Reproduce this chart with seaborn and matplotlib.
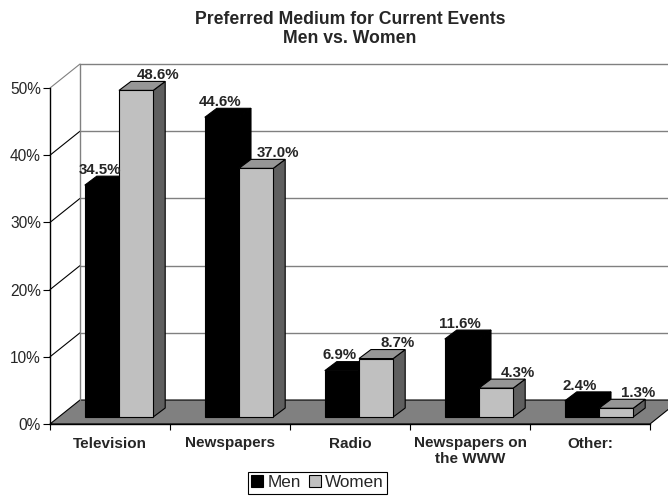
import pandas as pd
import matplotlib.pyplot as plt
import seaborn as sns
from matplotlib.patches import Polygon, Patch

# ------------------------- DATA ------------------------- #
categories = ["Television", "Newspapers", "Radio", "Newspapers on\nthe WWW", "Other:"]
men = [34.5, 44.6, 6.9, 11.6, 2.4]
women = [48.6, 37.0, 8.7, 4.3, 1.3]
series = ["Men", "Women"]
y_ticks = [0, 10, 20, 30, 40, 50]

# ------------------------- STYLE ------------------------- #
sns.set_style("white")
plt.rcParams["font.family"] = ["Liberation Sans", "DejaVu Sans"]

FRONT = {"Men": "#000000", "Women": "#c0c0c0"}
TOP = {"Men": "#000000", "Women": "#969696"}
SIDE = {"Men": "#000000", "Women": "#5f5f5f"}
FLOOR = "#808080"
GRID = "#808080"

# pseudo-3D offsets, data units (1 category = 120 px, 10% = 67.2 px)
WALL_DX, WALL_DY = 0.25, 3.57    # depth of the "room"
BAR_DX, BAR_DY = 0.075, 1.04     # where the bars stand on the floor
DEP_DX, DEP_DY = 0.10, 1.34      # depth of a single bar

df = pd.DataFrame({
    "medium": categories * 2,
    "pct": men + women,
    "sex": [series[0]] * len(men) + [series[1]] * len(women),
})

fig = plt.figure(figsize=(6.68, 4.97), dpi=100)
ax = fig.add_axes([50 / 668, 73 / 497, 600 / 668, 336 / 497])
ax.patch.set_alpha(0)

sns.barplot(data=df, x="medium", y="pct", hue="sex", palette=FRONT,
            width=0.57, saturation=1, edgecolor="black", linewidth=0.8,
            errorbar=None, legend=False, ax=ax)

x0, x1 = -0.5, len(categories) - 0.5
ax.set_xlim(x0, x1)
ax.set_ylim(0, 50)

# ------------------------- ROOM ------------------------- #
floor = Polygon([(x0, 0), (x1, 0), (x1 + WALL_DX, WALL_DY), (x0 + WALL_DX, WALL_DY)],
                closed=True, facecolor=FLOOR, edgecolor="black", lw=0.8,
                zorder=1, clip_on=False)
ax.add_patch(floor)
for t in y_ticks[1:]:
    ax.plot([x0 + WALL_DX, x1 + WALL_DX], [t + WALL_DY] * 2, color=GRID, lw=1.0,
            zorder=1.5, clip_on=False)
    ax.plot([x0, x0 + WALL_DX], [t, t + WALL_DY], color=GRID if t == 50 else "black",
            lw=0.8, zorder=1.5, clip_on=False)
ax.plot([x0 + WALL_DX] * 2, [WALL_DY, 50 + WALL_DY], color=GRID, lw=1.0,
        zorder=1.5, clip_on=False)

# ------------------------- BARS ------------------------- #
n = len(categories)
for k, p in enumerate(ax.patches[:2 * n]):
    hue = series[k // n]
    cat = k % n
    z = 3 + 2 * cat + (k // n)
    bx, w, h = p.get_x() + BAR_DX, p.get_width(), p.get_height()
    p.set_x(bx)
    p.set_y(BAR_DY)
    p.set_zorder(z + 0.5)
    p.set_clip_on(False)
    top = [(bx, BAR_DY + h), (bx + w, BAR_DY + h),
           (bx + w + DEP_DX, BAR_DY + h + DEP_DY), (bx + DEP_DX, BAR_DY + h + DEP_DY)]
    side = [(bx + w, BAR_DY), (bx + w + DEP_DX, BAR_DY + DEP_DY),
            (bx + w + DEP_DX, BAR_DY + h + DEP_DY), (bx + w, BAR_DY + h)]
    ax.add_patch(Polygon(side, closed=True, facecolor=SIDE[hue], edgecolor="black",
                         lw=0.8, zorder=z, clip_on=False))
    ax.add_patch(Polygon(top, closed=True, facecolor=TOP[hue], edgecolor="black",
                         lw=0.8, zorder=z, clip_on=False))
    shift = -0.017 if hue == "Men" else 0.18
    ax.text(bx + w / 2 + shift, BAR_DY + h + DEP_DY - 0.1, f"{h:.1f}%",
            ha="center", va="bottom", fontsize=10.8, fontweight="bold", zorder=20)

# ------------------------- AXES ------------------------- #
for s in ["top", "right"]:
    ax.spines[s].set_visible(False)
for s in ["left", "bottom"]:
    ax.spines[s].set_color("black")
    ax.spines[s].set_linewidth(1.0)
    ax.spines[s].set_zorder(30)

ax.set_yticks(y_ticks, labels=[f"{t}%" for t in y_ticks])
ax.tick_params(axis="y", direction="out", length=5, width=0.8, pad=1.5,
               labelsize=11.2, left=True, color="black")
ax.set_xticks([x0 + i for i in range(n + 1)], labels=[""] * (n + 1))
ax.set_xticks(range(n), labels=categories, minor=True)
ax.tick_params(axis="x", which="major", direction="out", length=4.5, width=0.8,
               bottom=True, color="black")
ax.tick_params(axis="x", which="minor", length=0, pad=9, labelsize=11)
for lab in ax.get_xticklabels(minor=True):
    lab.set_fontweight("bold")
    lab.set_linespacing(1.1)
ax.set_xlabel("")
ax.set_ylabel("")

fig.text(350 / 668, 1 - 11 / 497, "Preferred Medium for Current Events\nMen vs. Women",
         ha="center", va="top", fontsize=12.7, fontweight="bold", linespacing=1.15)

handles = [Patch(facecolor=FRONT[s], edgecolor="black", lw=0.8) for s in series]
fig.legend(handles, series, loc="upper center", bbox_to_anchor=(317.5 / 668, 1 - 472 / 497),
           ncol=2, frameon=True, fancybox=False, edgecolor="black", framealpha=1,
           fontsize=12.3, handlelength=0.7, handleheight=0.7, handletextpad=0.25,
           columnspacing=0.45, borderpad=0.2, borderaxespad=0)
fig.legends[0].get_frame().set_linewidth(0.8)

fig.savefig("out.png", dpi=100)
